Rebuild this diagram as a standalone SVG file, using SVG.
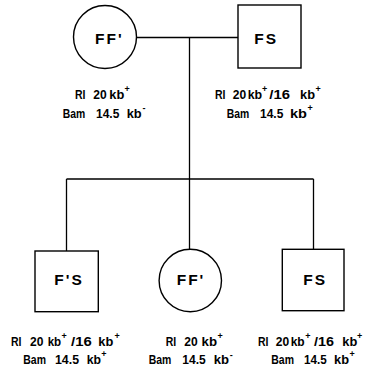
<svg xmlns="http://www.w3.org/2000/svg" width="374" height="377" viewBox="0 0 374 377">
<style>
.shape{fill:#fff;stroke:#000;stroke-width:1.4}
.conn{fill:none;stroke:#000;stroke-width:1.3}
.nl{font-family:"Liberation Sans",Arial,sans-serif;font-weight:bold;font-size:15.5px;letter-spacing:2px;fill:#000}
.lb{font-family:"Liberation Sans",Arial,sans-serif;font-weight:bold;font-size:12px;fill:#000}
.sp{font-size:9px}
</style>
<rect width="374" height="377" fill="#fff"/>
<g id="connectors">
<path class="conn" d="M137 37.5H238M189.5 37.5V179M66.5 179H313.5M66.5 179V251M189.5 179V249.5M313.5 179V249.5"/>
</g>
<g id="parent-ff">
<circle class="shape" cx="105" cy="37" r="31.5"/>
<text class="nl" x="95" y="43.5">FF'</text>
<text class="lb"><tspan x="75" y="99" textLength="10.5" lengthAdjust="spacingAndGlyphs">RI</tspan><tspan x="93.3" y="99" textLength="13.4" lengthAdjust="spacingAndGlyphs">20</tspan><tspan x="109.3" y="99" textLength="15" lengthAdjust="spacingAndGlyphs">kb</tspan><tspan class="sp" x="124.5" y="92">+</tspan></text>
<text class="lb"><tspan x="62.7" y="117.7" textLength="22.5" lengthAdjust="spacingAndGlyphs">Bam</tspan><tspan x="96" y="117.7" textLength="23.3" lengthAdjust="spacingAndGlyphs">14.5</tspan><tspan x="126.7" y="117.7" textLength="15" lengthAdjust="spacingAndGlyphs">kb</tspan><tspan class="sp" x="142.5" y="111">-</tspan></text>
</g>
<g id="parent-fs">
<rect class="shape" x="238" y="5" width="63" height="63"/>
<text class="nl" x="254.3" y="43.5">FS</text>
<text class="lb"><tspan x="215" y="99" textLength="10.5" lengthAdjust="spacingAndGlyphs">RI</tspan><tspan x="232.7" y="99" textLength="13.4" lengthAdjust="spacingAndGlyphs">20</tspan><tspan x="247.7" y="99" textLength="14.5" lengthAdjust="spacingAndGlyphs">kb</tspan><tspan class="sp" x="262" y="92">+</tspan><tspan x="269.3" y="99" textLength="20.7" lengthAdjust="spacingAndGlyphs">/16</tspan><tspan x="300" y="99" textLength="15" lengthAdjust="spacingAndGlyphs">kb</tspan><tspan class="sp" x="315.5" y="92">+</tspan></text>
<text class="lb"><tspan x="226.7" y="117.7" textLength="22.5" lengthAdjust="spacingAndGlyphs">Bam</tspan><tspan x="260" y="117.7" textLength="23.3" lengthAdjust="spacingAndGlyphs">14.5</tspan><tspan x="290" y="117.7" textLength="17" lengthAdjust="spacingAndGlyphs">kb</tspan><tspan class="sp" x="307.5" y="110.7">+</tspan></text>
</g>
<g id="child-fs1">
<rect class="shape" x="35" y="251" width="63.3" height="60.7"/>
<text class="nl" x="54.3" y="285">F'S</text>
<text class="lb"><tspan x="11" y="346" textLength="10.5" lengthAdjust="spacingAndGlyphs">RI</tspan><tspan x="30" y="346" textLength="13.4" lengthAdjust="spacingAndGlyphs">20</tspan><tspan x="47.7" y="346" textLength="13.5" lengthAdjust="spacingAndGlyphs">kb</tspan><tspan class="sp" x="61.5" y="339">+</tspan><tspan x="71" y="346" textLength="20.7" lengthAdjust="spacingAndGlyphs">/16</tspan><tspan x="98.3" y="346" textLength="15" lengthAdjust="spacingAndGlyphs">kb</tspan><tspan class="sp" x="114.5" y="339">+</tspan></text>
<text class="lb"><tspan x="23.3" y="364.3" textLength="22.7" lengthAdjust="spacingAndGlyphs">Bam</tspan><tspan x="55" y="364.3" textLength="24" lengthAdjust="spacingAndGlyphs">14.5</tspan><tspan x="86.7" y="364.3" textLength="14.3" lengthAdjust="spacingAndGlyphs">kb</tspan><tspan class="sp" x="101.2" y="357.3">+</tspan></text>
</g>
<g id="child-ff">
<circle class="shape" cx="190.3" cy="280.5" r="31.2"/>
<text class="nl" x="176.7" y="285">FF'</text>
<text class="lb"><tspan x="165.7" y="346" textLength="10.5" lengthAdjust="spacingAndGlyphs">RI</tspan><tspan x="184.3" y="346" textLength="13.4" lengthAdjust="spacingAndGlyphs">20</tspan><tspan x="201.5" y="346" textLength="15.5" lengthAdjust="spacingAndGlyphs">kb</tspan><tspan class="sp" x="217.5" y="339">+</tspan></text>
<text class="lb"><tspan x="148.7" y="364.3" textLength="22.6" lengthAdjust="spacingAndGlyphs">Bam</tspan><tspan x="182.3" y="364.3" textLength="23.4" lengthAdjust="spacingAndGlyphs">14.5</tspan><tspan x="213.7" y="364.3" textLength="15.3" lengthAdjust="spacingAndGlyphs">kb</tspan><tspan class="sp" x="229.7" y="357.5">-</tspan></text>
</g>
<g id="child-fs2">
<rect class="shape" x="282.3" y="249.3" width="61.7" height="61.4"/>
<text class="nl" x="303.3" y="285">FS</text>
<text class="lb"><tspan x="258" y="346" textLength="10.5" lengthAdjust="spacingAndGlyphs">RI</tspan><tspan x="275.7" y="346" textLength="13.4" lengthAdjust="spacingAndGlyphs">20</tspan><tspan x="290.7" y="346" textLength="14" lengthAdjust="spacingAndGlyphs">kb</tspan><tspan class="sp" x="305.2" y="339">+</tspan><tspan x="314" y="346" textLength="20" lengthAdjust="spacingAndGlyphs">/16</tspan><tspan x="342.3" y="346" textLength="15" lengthAdjust="spacingAndGlyphs">kb</tspan><tspan class="sp" x="357" y="339">+</tspan></text>
<text class="lb"><tspan x="271.3" y="364.3" textLength="22.7" lengthAdjust="spacingAndGlyphs">Bam</tspan><tspan x="304" y="364.3" textLength="22.7" lengthAdjust="spacingAndGlyphs">14.5</tspan><tspan x="334" y="364.3" textLength="15" lengthAdjust="spacingAndGlyphs">kb</tspan><tspan class="sp" x="349.5" y="357.3">+</tspan></text>
</g>
</svg>
